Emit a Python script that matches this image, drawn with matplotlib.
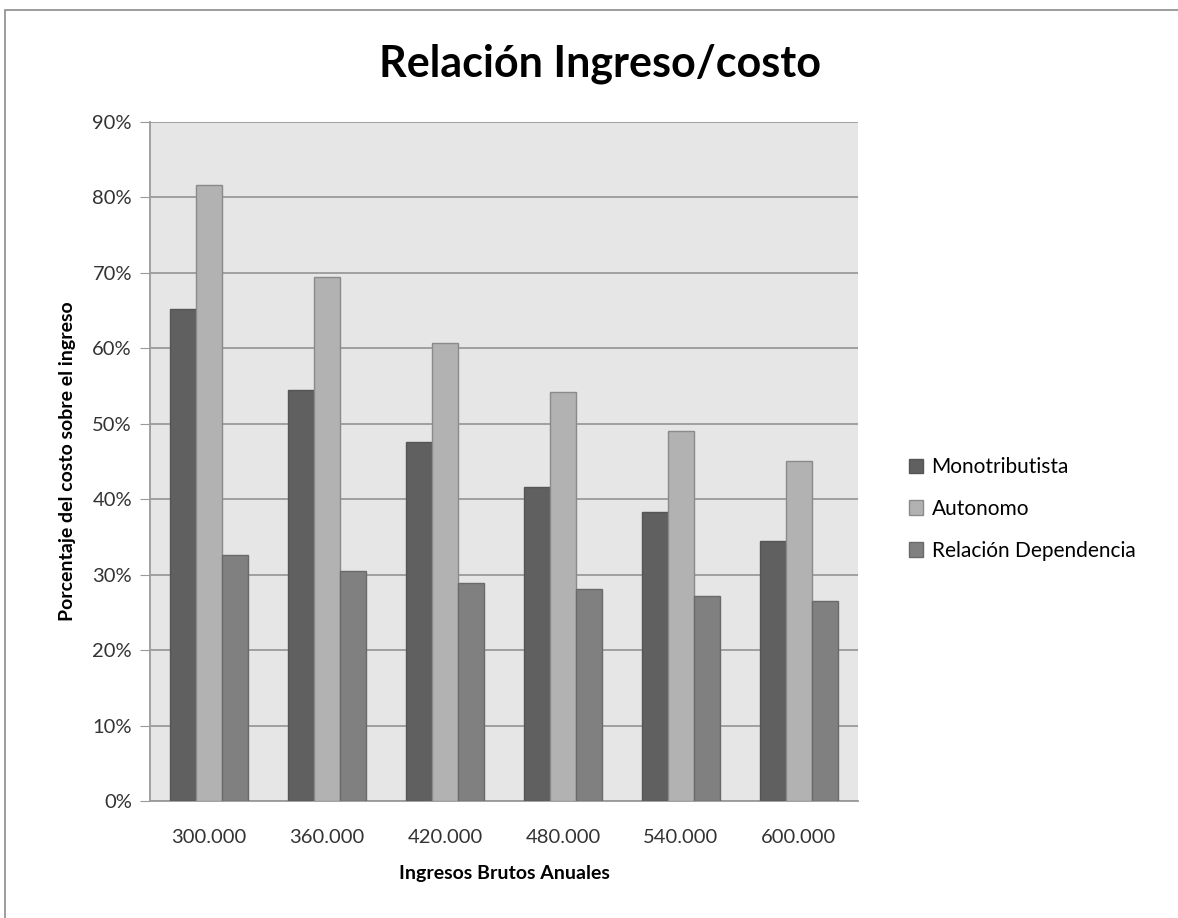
import numpy as np
import matplotlib.pyplot as plt
from matplotlib.patches import Rectangle
from matplotlib.ticker import PercentFormatter

categories = ["300.000", "360.000", "420.000", "480.000", "540.000", "600.000"]
monotributista = [65.2, 54.5, 47.6, 41.6, 38.3, 34.5]
autonomo = [81.7, 69.4, 60.7, 54.2, 49.1, 45.1]
dependencia = [32.6, 30.5, 28.9, 28.1, 27.2, 26.5]
series_names = ["Monotributista", "Autonomo", "Relación Dependencia"]

plt.rcParams['font.family'] = ['Lato', 'DejaVu Sans']

W, H = 1178, 918
fig = plt.figure(figsize=(W / 100, H / 100), dpi=100)
# plot area in pixels: x 150-858, y 122-801
ax = fig.add_axes([150 / W, 1 - 801 / H, (858 - 150) / W, (801 - 122) / H])

# outer chart border
fig.patches.append(Rectangle((5 / W, -0.05), 1.2, 1 - 10 / H + 0.05, transform=fig.transFigure,
                             fill=False, edgecolor='#8c8c8c', linewidth=1.2))

x = np.arange(len(categories))
bw = 0.22
colors = ['#606060', '#b2b2b2', '#808080']
edges = ['#555555', '#8a8a8a', '#6a6a6a']
for i, vals in enumerate([monotributista, autonomo, dependencia]):
    ax.bar(x + (i - 1) * bw, vals, bw, color=colors[i], edgecolor=edges[i],
           linewidth=1.0, label=series_names[i], zorder=3)

ax.set_facecolor('#e6e6e6')
ax.set_xlim(-0.5, len(categories) - 0.5)
ax.set_ylim(0, 90)
ax.set_yticks(np.arange(0, 91, 10))
ax.yaxis.set_major_formatter(PercentFormatter(decimals=0))
ax.grid(axis='y', color='#9a9a9a', linewidth=1.3, zorder=0)
ax.set_xticks(x)
ax.set_xticklabels(categories)
for s in ['top', 'right']:
    ax.spines[s].set_visible(False)
ax.spines['left'].set_color('#9a9a9a')
ax.spines['bottom'].set_color('#9a9a9a')
ax.spines['left'].set_linewidth(1.3)
ax.spines['bottom'].set_linewidth(1.3)
ax.tick_params(axis='y', length=7, color='#9a9a9a', labelsize=14.5, labelcolor='#333333', pad=6)
ax.tick_params(axis='x', length=0, labelsize=14.5, labelcolor='#333333', pad=20)

ax.set_xlabel("Ingresos Brutos Anuales", fontsize=14, fontweight='bold', labelpad=14)
ax.set_ylabel("Porcentaje del costo sobre el ingreso", fontsize=14, fontweight='bold', labelpad=12)

fig.text(600 / W, 1 - 64 / H, "Relación Ingreso/costo", ha='center', va='center',
         fontsize=31, fontweight='bold')

ax.legend(loc='center left', bbox_to_anchor=(1.045, 0.43), frameon=False, fontsize=15,
          handlelength=0.7, handleheight=0.7, handletextpad=0.4, labelspacing=1.05)

fig.savefig("out.png", dpi=100, facecolor='white')
